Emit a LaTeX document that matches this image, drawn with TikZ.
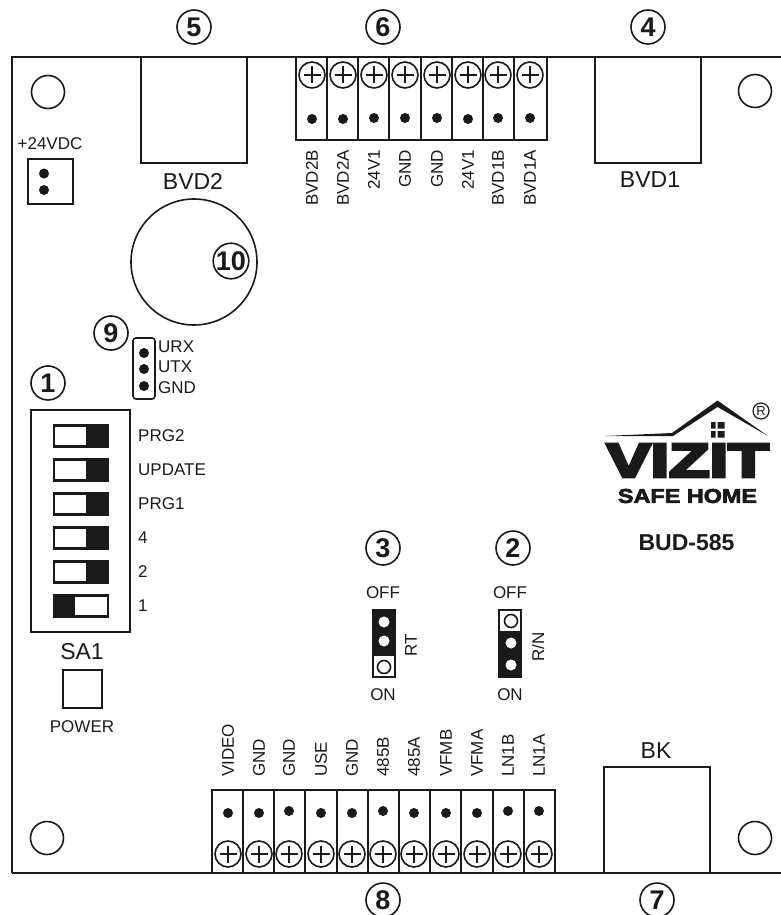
\documentclass[tikz,border=0pt]{standalone}
\usepackage{fontspec}
\setmainfont{Liberation Sans}
\newfontfamily\logofont[FakeBold=6]{Liberation Sans Bold}
\newfontfamily\logofontb[FakeBold=3]{Liberation Sans Bold}
\definecolor{ink}{HTML}{1A1A1A}
\newcommand{\pxfont}[1]{\fontsize{#1}{#1}\selectfont}
\tikzset{
  x=1pt,y=-1pt,
  line/.style={draw=ink,line width=2pt},
  lab/.style={inner sep=0pt,text=ink,font=\pxfont{17}},
  biglab/.style={inner sep=0pt,text=ink,font=\pxfont{23}},
  rotlab/.style={lab,rotate=90,anchor=west},
  num/.style={circle,draw=ink,line width=1.6pt,minimum size=34pt,inner sep=0pt,text=ink,font=\bfseries\pxfont{27}},
  hole/.style={line,line width=1.6pt,fill=white},
  dot/.style={fill=ink,draw=none},
}
\newcommand{\screw}[2]{%
  \draw[draw=ink,line width=1.6pt] (#1,#2) circle (13);
  \draw[draw=ink,line width=1.5pt] (#1-8.5,#2) -- (#1+8.5,#2) (#1,#2-8.5) -- (#1,#2+8.5);}
\begin{document}
\begin{tikzpicture}
\useasboundingbox (0,0) rectangle (781,915);
\fill[white] (0,0) rectangle (781,915);
% board (its right edge runs off the picture)
\draw[line] (781,57) -- (12,57) -- (12,873);
\draw[draw=ink,line width=1.5pt] (12,873) -- (781,873);
\foreach \x/\y in {48/92,755/91,47/838,755/838}
  \draw[hole] (\x,\y) circle (16.5);
% BVD connectors
\draw[line,fill=white] (141,57) rectangle (247,163);
\draw[line,fill=white] (594.5,57) rectangle (700.5,163);
\draw[line,fill=white] (604,767) rectangle (710,873);
\node[biglab] (bvdtwo) at (193,181) {BVD2};
\node[biglab] (bvdone) at (650,180) {BVD1};
\node[biglab] (bk) at (656,751) {BK};
% power terminal
\node[lab] (vdc) at (50,143.5) {+24VDC};
\draw[line] (28,159) rectangle (73,204);
\fill[dot] (44,173.5) circle (5) (44,190) circle (5);
% buzzer
\draw[line,line width=1.6pt] (194,262) circle (63);
% top terminal
\draw[line,fill=white] (296,57) rectangle (547,140);
\foreach \x in {327,358,389,421,452,483,514}
  \draw[draw=ink,line width=1.6pt] (\x,57) -- (\x,140);
\foreach \i/\x/\t/\d in {0/312/BVD2B/119,1/343/BVD2A/119,2/374/24V1/118,3/405/GND/118,4/437/GND/118,5/468/24V1/119,6/498/BVD1B/118,7/530/BVD1A/118}{
  \screw{\x}{75}
  \fill[dot] (\x,\d) circle (5);
  \node[lab,rotate=90,anchor=east] (t\i) at (\x,150) {\t};
}
% bottom terminal
\draw[line,fill=white] (212,790) rectangle (555,873);
\foreach \x in {243,274,305,337,368,399,430,461,493,524}
  \draw[draw=ink,line width=1.6pt] (\x,790) -- (\x,873);
\foreach \i/\x/\t/\d in {0/228/VIDEO/813,1/259/GND/813,2/289/GND/811,3/321/USE/813,4/352/GND/813,5/383/485B/811,6/414/485A/813,7/446/VFMB/813,8/477/VFMA/813,9/508/LN1B/811,10/539/LN1A/811}{
  \screw{\x}{854}
  \fill[dot] (\x,\d) circle (5);
  \node[rotlab] (b\i) at (\x,777) {\t};
}
% UART header
\draw[line,line width=1.6pt,rounded corners=3pt] (133,338) rectangle (155,399);
\fill[dot] (144,353) circle (5) (144,369) circle (5) (144,386) circle (5);
\node[lab,anchor=west] (urx) at (158,347) {URX};
\node[lab,anchor=west] (utx) at (158,367) {UTX};
\node[lab,anchor=west] (gnd) at (158,388) {GND};
% DIP switch
\draw[line] (31,410) rectangle (130,632);
\foreach \y/\t in {436/PRG2,470/UPDATE,504/PRG1,538/4,572/2}{
  \draw[line,line width=2.6pt] (54,\y-10.5) rectangle (108,\y+10.5);
  \fill[ink] (86,\y-11) rectangle (109,\y+11);
  \node[lab,anchor=west] (s\t) at (138,\y) {\t};
}
\draw[line,line width=2.6pt] (54,595.5) rectangle (108,616.5);
\fill[ink] (53,595) rectangle (75,617);
\node[lab,anchor=west] (sone) at (138,606) {1};
\node[biglab] (sa) at (82,652) {SA1};
\draw[line] (63,670) rectangle (102,708);
\node[lab] (power) at (82,727) {POWER};
% jumpers
\fill[ink] (372,609) rectangle (396,678);
\fill[white] (374,656) rectangle (394,676);
\draw[draw=ink,line width=1.6pt] (384,667) circle (6.5);
\fill[white] (384,622) circle (5.5) (384,641) circle (5.5);
\fill[ink] (498,609) rectangle (522,678);
\fill[white] (500,611) rectangle (520,631);
\draw[draw=ink,line width=1.6pt] (511,621) circle (6.5);
\fill[white] (511,643) circle (5.5) (511,665) circle (5.5);
\node[lab] (off3) at (383,593) {OFF};
\node[lab] (on3) at (383,695) {ON};
\node[lab] (off2) at (510,593) {OFF};
\node[lab] (on2) at (510,695) {ON};
\node[lab,rotate=90] (rt) at (411,645) {RT};
\node[lab,rotate=90] (rn) at (538,647) {R/N};
% numbers
\node[num] (n1) at (48,383) {1};
\node[num] (n2) at (513,548) {2};
\node[num] (n3) at (383,548) {3};
\node[num] (n4) at (648,27) {4};
\node[num] (n5) at (194,27) {5};
\node[num] (n6) at (383,27) {6};
\node[num] (n7) at (657,900) {7};
\node[num] (n8) at (383,900) {8};
\node[num] (n9) at (111,333) {9};
\node[num] (n10) at (231,261) {10};
% logo
\fill[ink] (605,436) -- (672,433) -- (717.5,400.5) -- (768,436) -- (717.5,407) -- (673,436) -- cycle;
\fill[ink] (711,422) rectangle (715.5,428.5) (717.5,422) rectangle (724.5,428.5)
           (711,431) rectangle (715.5,437.5) (717.5,431) rectangle (724.5,437.5);
\draw[draw=ink,line width=1.2pt] (761,411) circle (8);
\node[inner sep=0pt,text=ink,font=\pxfont{13}] (reg) at (761,411) {R};
\node[inner sep=0pt,text=ink,font=\logofont\pxfont{48},xscale=1.38] (vizit) at (687.5,460.5) {VIZIT};
\node[inner sep=0pt,text=ink,font=\logofontb\pxfont{20},xscale=1.17] (safe) at (687.5,496) {SAFE HOME};
\node[inner sep=0pt,text=ink,font=\bfseries\pxfont{23}] (bud) at (686.5,543) {BUD-585};
\end{tikzpicture}
\end{document}
